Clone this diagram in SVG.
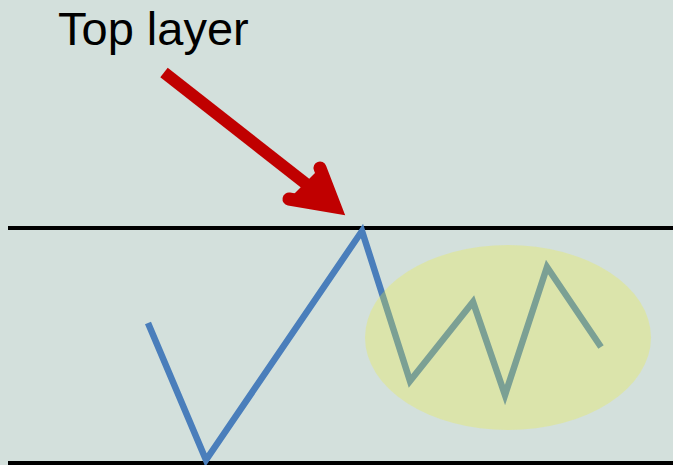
<svg xmlns="http://www.w3.org/2000/svg" width="673" height="465" viewBox="0 0 673 465">
<style>
.rule{stroke:#000;stroke-width:4;fill:none}
.red{stroke:#c00000;fill:none}
</style>
<rect x="0" y="0" width="673" height="465" fill="#d3e0dc"/>
<g id="label"><text x="58" y="45" font-family="Liberation Sans, Arial, sans-serif" font-size="47" fill="#000">Top layer</text></g>
<g id="layers">
<line class="rule" x1="8" y1="228" x2="673" y2="228"/>
<line class="rule" x1="8" y1="463" x2="673" y2="463"/>
</g>
<g id="signal">
<polyline points="148,323 206,460 362,231 410,381 473,302 505,395 547,267 601,347" fill="none" stroke="#4a7ebb" stroke-width="6.5" stroke-linejoin="miter"/>
</g>
<g id="highlight">
<ellipse cx="508" cy="337.5" rx="143" ry="92.5" fill="#eef03a" fill-opacity="0.3"/>
</g>
<g id="connectors">
<line class="red" x1="164" y1="72.5" x2="333" y2="205" stroke-width="12"/>
<polygon points="320,168 335,207 289,199" fill="#c00000"/>
<polyline class="red" points="320,168 335,207 289,199" stroke-width="13" stroke-linecap="round" stroke-linejoin="miter" stroke-miterlimit="6"/>
</g>
</svg>
